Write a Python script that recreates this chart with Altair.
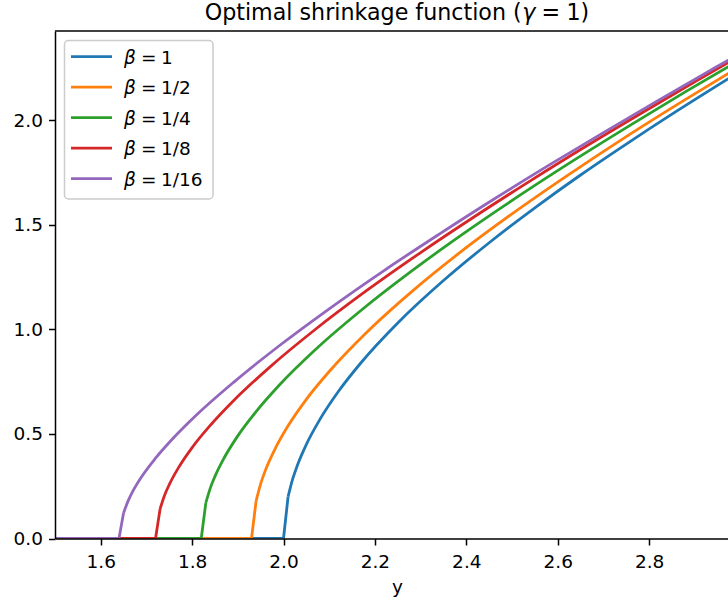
import altair as alt
import pandas as pd

# Shrinkage curves: signal level y and the shrunken value eta(y), one pair per beta.
y_beta_1 = [1.50, 2.00, 2.01, 2.02, 2.03, 2.05, 2.08, 2.12, 2.17, 2.25, 2.35, 2.45, 2.55, 2.65, 2.75, 2.85, 3.00]
eta_beta_1 = [0.0, 0.0, 0.200, 0.284, 0.348, 0.450, 0.571, 0.703, 0.842, 1.031, 1.234, 1.415, 1.582, 1.739, 1.887, 2.030, 2.236]

y_beta_2 = [1.50, 1.93, 1.94, 1.95, 1.96, 1.98, 2.01, 2.05, 2.10, 2.18, 2.28, 2.38, 2.50, 2.62, 2.75, 2.87, 3.00]
eta_beta_2 = [0.0, 0.0, 0.179, 0.261, 0.324, 0.422, 0.539, 0.666, 0.799, 0.982, 1.180, 1.358, 1.553, 1.735, 1.923, 2.088, 2.261]

y_beta_4 = [1.50, 1.82, 1.83, 1.84, 1.85, 1.87, 1.90, 1.94, 1.99, 2.07, 2.17, 2.28, 2.40, 2.52, 2.64, 2.76, 2.88, 3.00]
eta_beta_4 = [0.0, 0.0, 0.170, 0.242, 0.297, 0.385, 0.491, 0.607, 0.732, 0.904, 1.092, 1.279, 1.468, 1.646, 1.816, 1.979, 2.138, 2.292]

y_beta_8 = [1.50, 1.72, 1.73, 1.74, 1.75, 1.77, 1.80, 1.84, 1.89, 1.97, 2.07, 2.18, 2.30, 2.42, 2.54, 2.66, 2.78, 2.90, 3.00]
eta_beta_8 = [0.0, 0.0, 0.142, 0.208, 0.258, 0.338, 0.435, 0.542, 0.658, 0.820, 1.001, 1.183, 1.368, 1.543, 1.711, 1.874, 2.031, 2.185, 2.311]

y_beta_16 = [1.50, 1.64, 1.65, 1.66, 1.67, 1.69, 1.72, 1.76, 1.81, 1.89, 1.99, 2.10, 2.22, 2.34, 2.46, 2.58, 2.70, 2.82, 2.94, 3.00]
eta_beta_16 = [0.0, 0.0, 0.122, 0.180, 0.225, 0.297, 0.384, 0.483, 0.592, 0.746, 0.921, 1.099, 1.282, 1.455, 1.623, 1.785, 1.942, 2.096, 2.247, 2.322]

beta_labels = ["1", "1/2", "1/4", "1/8", "1/16"]
beta_colors = ["#1f77b4", "#ff7f0e", "#2ca02c", "#d62728", "#9467bd"]
x_ticks = [1.6, 1.8, 2.0, 2.2, 2.4, 2.6, 2.8]
y_ticks = [0.0, 0.5, 1.0, 1.5, 2.0]

FONT = "DejaVu Sans"
W, H = 673, 507.5
LEFT, TOP = 55, 31
LW = 2.8
TICK_FS = 18.5
TITLE_FS = 22.2

x_enc = alt.X(
    "y:Q",
    scale=alt.Scale(domain=[1.5, 2.9726], nice=False, zero=False),
    axis=alt.Axis(
        values=x_ticks, format=".1f", title="y", grid=False, zindex=1,
        labelFont=FONT, labelFontSize=TICK_FS, labelColor="black", labelPadding=7,
        labelOverlap=False, labelFlush=False,
        tickColor="black", tickSize=6.5, tickWidth=1.5,
        domainColor="black", domainWidth=1.5,
        titleFont=FONT, titleFontSize=TICK_FS, titleFontWeight="normal", titleColor="black",
        titleX=342, titleY=54, titleAlign="center", titleBaseline="alphabetic",
    ),
)
y_enc = alt.Y(
    "eta:Q",
    scale=alt.Scale(domain=[0, 2.428], nice=False, zero=False),
    axis=alt.Axis(
        values=y_ticks, format=".1f", title=None, grid=False, zindex=1,
        labelFont=FONT, labelFontSize=TICK_FS, labelColor="black", labelPadding=6,
        labelOverlap=False, labelFlush=False,
        tickColor="black", tickSize=6.5, tickWidth=1.5,
        domainColor="black", domainWidth=1.5,
    ),
)

series = [
    (y_beta_1, eta_beta_1),
    (y_beta_2, eta_beta_2),
    (y_beta_4, eta_beta_4),
    (y_beta_8, eta_beta_8),
    (y_beta_16, eta_beta_16),
]

layers = []
for (ys, etas), color in zip(series, beta_colors):
    df = pd.DataFrame({"y": ys, "eta": etas})
    k = max(i for i, v in enumerate(etas) if v == 0)
    # flat part up to the threshold plus the first jump, drawn as straight segments
    flat = df.iloc[: k + 2]
    # smooth rise after the jump
    rise = df.iloc[k + 1:]
    layers.append(
        alt.Chart(flat).mark_line(color=color, strokeWidth=LW, clip=True)
        .encode(x=x_enc, y=y_enc)
    )
    layers.append(
        alt.Chart(rise).mark_line(color=color, strokeWidth=LW, clip=True, interpolate="monotone")
        .encode(x=x_enc, y=y_enc)
    )

one = pd.DataFrame({"k": [0]})

# top spine of the axes frame
layers.append(
    alt.Chart(one).mark_rule(color="black", strokeWidth=1.5)
    .encode(x=alt.value(0), x2=alt.value(W), y=alt.value(0))
)

# legend frame
layers.append(
    alt.Chart(one).mark_rect(
        fill="white", fillOpacity=0.8, stroke="#cccccc", strokeWidth=1.5, cornerRadius=4
    ).encode(
        x=alt.value(64.5 - LEFT), x2=alt.value(213 - LEFT),
        y=alt.value(40.5 - TOP), y2=alt.value(199 - TOP),
    )
)

ROW0, ROW_STEP = 56.7 - TOP, 30.5
for i, (lab, color) in enumerate(zip(beta_labels, beta_colors)):
    cy = ROW0 + ROW_STEP * i
    base = cy + 6.8
    layers.append(
        alt.Chart(one).mark_rule(color=color, strokeWidth=LW)
        .encode(x=alt.value(71 - LEFT), x2=alt.value(112 - LEFT), y=alt.value(cy))
    )
    layers.append(
        alt.Chart(one).mark_text(
            text="β", font=FONT, fontSize=TICK_FS, fontStyle="italic",
            align="left", baseline="alphabetic", color="black",
        ).encode(x=alt.value(124 - LEFT), y=alt.value(base))
    )
    layers.append(
        alt.Chart(one).mark_text(
            text="=", font=FONT, fontSize=TICK_FS,
            align="left", baseline="alphabetic", color="black",
        ).encode(x=alt.value(141 - LEFT), y=alt.value(base))
    )
    layers.append(
        alt.Chart(one).mark_text(
            text=lab, font=FONT, fontSize=TICK_FS,
            align="left", baseline="alphabetic", color="black",
        ).encode(x=alt.value(161 - LEFT), y=alt.value(base))
    )

# title: "Optimal shrinkage function (γ = 1)"
TITLE_BASE = 20 - TOP
title_parts = [
    ("Optimal shrinkage function (", 204.7, "normal"),
    ("γ", 522.3, "italic"),
    ("=", 541.6, "normal"),
    ("1)", 566.4, "normal"),
]
for txt, xpos, style in title_parts:
    layers.append(
        alt.Chart(one).mark_text(
            text=txt, font=FONT, fontSize=TITLE_FS, fontStyle=style,
            align="left", baseline="alphabetic", color="black",
        ).encode(x=alt.value(xpos - LEFT), y=alt.value(TITLE_BASE))
    )

chart = (
    alt.layer(*layers)
    .properties(
        width=W, height=H, autosize="none",
        padding={"left": LEFT, "top": TOP, "right": 0, "bottom": 601 - TOP - H},
        background="white",
    )
    .configure_view(stroke=None)
)

chart.save("out.html", embed_options={"renderer": "svg", "actions": False})
